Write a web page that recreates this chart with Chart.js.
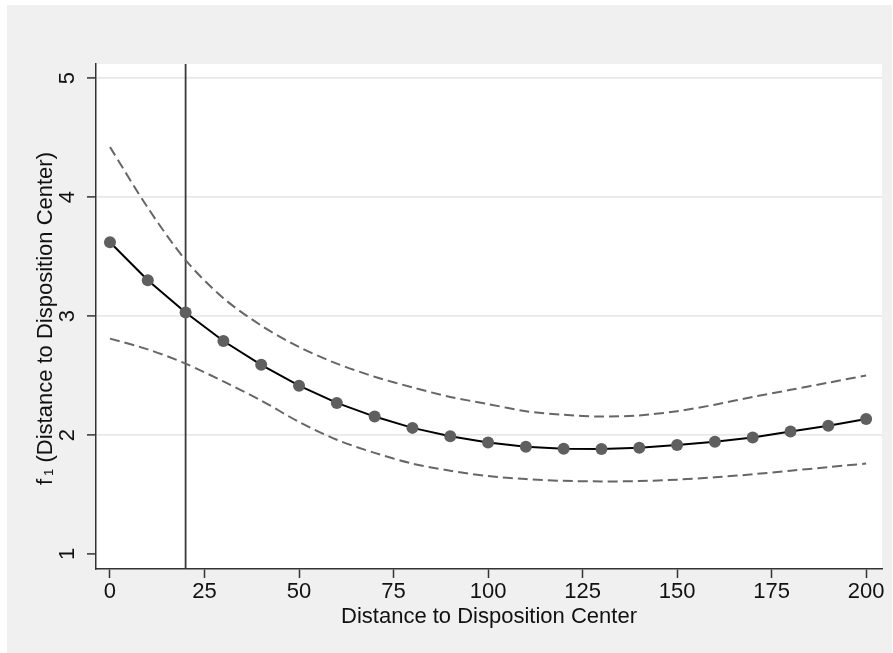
<!DOCTYPE html>
<html>
<head>
<meta charset="utf-8">
<script src="https://cdn.jsdelivr.net/npm/chart.js@4/dist/chart.umd.min.js"></script>
<style>
  html, body { margin: 0; padding: 0; background: #fff; }
  #wrap { width: 893px; height: 653px; }
</style>
</head>
<body>
<div id="wrap"><canvas id="fitChart" width="893" height="653"></canvas></div>
<script>
// Distance grid and fitted values
const distance = [0, 10, 20, 30, 40, 50, 60, 70, 80, 90, 100, 110, 120, 130, 140, 150, 160, 170, 180, 190, 200];
const fitted = [3.62, 3.30, 3.03, 2.79, 2.59, 2.415, 2.27, 2.155, 2.06, 1.99, 1.937, 1.902, 1.884, 1.882, 1.893, 1.916, 1.944, 1.98, 2.03, 2.078, 2.134];
const upperCI = [4.42, 3.91, 3.47, 3.15, 2.92, 2.74, 2.60, 2.49, 2.40, 2.32, 2.26, 2.20, 2.17, 2.155, 2.165, 2.20, 2.255, 2.32, 2.38, 2.44, 2.50];
const lowerCI = [2.81, 2.72, 2.60, 2.45, 2.29, 2.11, 1.96, 1.85, 1.76, 1.70, 1.655, 1.63, 1.615, 1.61, 1.613, 1.625, 1.645, 1.67, 1.70, 1.73, 1.76];
const xTicks = [0, 25, 50, 75, 100, 125, 150, 175, 200];
const yTicks = [1, 2, 3, 4, 5];
const refLine = 20;

const FONT = '"Liberation Sans", Arial, Helvetica, sans-serif';

const toPoints = ys => distance.map((x, i) => ({ x: x, y: ys[i] }));

// gray graph region + white plot region
const background = {
  id: 'background',
  beforeDraw(chart) {
    const { ctx, chartArea: a } = chart;
    ctx.save();
    ctx.fillStyle = '#f0f0f0';
    ctx.fillRect(7, 5, 885, 648);
    ctx.fillStyle = '#ffffff';
    ctx.fillRect(a.left, a.top, a.right - a.left, a.bottom - a.top);
    ctx.restore();
  },
  beforeDatasetsDraw(chart) {
    const { ctx, chartArea: a, scales } = chart;
    const x = scales.x.getPixelForValue(refLine);
    ctx.save();
    ctx.strokeStyle = '#3a3a3a';
    ctx.lineWidth = 1.8;
    ctx.beginPath();
    ctx.moveTo(x, a.top);
    ctx.lineTo(x, a.bottom);
    ctx.stroke();
    ctx.restore();
  }
};

// rotated y tick labels and y title (with subscript)
const yText = {
  id: 'yText',
  afterDraw(chart) {
    const { ctx, chartArea: a, scales } = chart;
    ctx.save();
    ctx.fillStyle = '#111';
    ctx.textAlign = 'center';
    ctx.textBaseline = 'middle';
    ctx.font = '22px ' + FONT;
    yTicks.forEach(v => {
      const y = scales.y.getPixelForValue(v);
      ctx.save();
      ctx.translate(67.5, y);
      ctx.rotate(-Math.PI / 2);
      ctx.fillText(String(v), 0, 0);
      ctx.restore();
    });

    const main = ' (Distance to Disposition Center)';
    ctx.font = '22px ' + FONT;
    const wf = ctx.measureText('f').width;
    const wm = ctx.measureText(main).width;
    ctx.font = '13px ' + FONT;
    const ws = ctx.measureText('1').width;
    const gap = 3;
    const total = wf + gap + ws + wm;
    ctx.translate(44, (a.top + a.bottom) / 2 + 2);
    ctx.rotate(-Math.PI / 2);
    ctx.textAlign = 'left';
    ctx.textBaseline = 'alphabetic';
    let pos = -total / 2;
    const base = 7.7;
    ctx.font = '22px ' + FONT;
    ctx.fillText('f', pos, base);
    pos += wf + gap;
    ctx.font = '13px ' + FONT;
    ctx.fillText('1', pos, base + 1.5);
    pos += ws;
    ctx.font = '22px ' + FONT;
    ctx.fillText(main, pos, base);
    ctx.restore();
  }
};

new Chart(document.getElementById('fitChart'), {
  type: 'scatter',
  data: {
    datasets: [
      {
        label: 'upper',
        data: toPoints(upperCI),
        showLine: true,
        borderColor: '#666666',
        borderWidth: 2,
        borderDash: [10, 5],
        pointRadius: 0,
        tension: 0.3
      },
      {
        label: 'lower',
        data: toPoints(lowerCI),
        showLine: true,
        borderColor: '#666666',
        borderWidth: 2,
        borderDash: [10, 5],
        pointRadius: 0,
        tension: 0.3
      },
      {
        label: 'fit',
        data: toPoints(fitted),
        showLine: true,
        borderColor: '#000000',
        borderWidth: 2,
        pointRadius: 6,
        pointBorderWidth: 0,
        pointBackgroundColor: '#5f5f5f',
        tension: 0
      }
    ]
  },
  options: {
    responsive: false,
    animation: false,
    events: [],
    layout: { padding: { top: 64, right: 11, bottom: 23, left: 0 } },
    plugins: {
      legend: { display: false },
      tooltip: { enabled: false }
    },
    scales: {
      x: {
        type: 'linear',
        min: -3.7,
        max: 204.2,
        afterBuildTicks: s => { s.ticks = xTicks.map(v => ({ value: v })); },
        afterFit: s => { s.height = 61; },
        border: { color: '#333', width: 1.5 },
        grid: { drawOnChartArea: false, drawTicks: true, tickLength: 9, tickColor: '#333', tickWidth: 1.5 },
        ticks: { color: '#111', font: { family: FONT, size: 22 }, padding: 1, maxRotation: 0, autoSkip: false },
        title: {
          display: true,
          text: 'Distance to Disposition Center',
          color: '#111',
          font: { family: FONT, size: 22 },
          padding: 0
        }
      },
      y: {
        type: 'linear',
        min: 0.874,
        max: 5.118,
        afterBuildTicks: s => { s.ticks = yTicks.map(v => ({ value: v })); },
        afterFit: s => { s.width = 96; },
        border: { color: '#333', width: 1.5 },
        grid: {
          color: c => (c.tick && c.tick.value === 1 ? 'rgba(0,0,0,0)' : '#e8e8e8'),
          lineWidth: 1.8,
          tickLength: 9,
          tickColor: '#333',
          tickWidth: 1.5
        },
        ticks: { color: 'rgba(0,0,0,0)', font: { family: FONT, size: 22 } }
      }
    }
  },
  plugins: [background, yText]
});
</script>
</body>
</html>
